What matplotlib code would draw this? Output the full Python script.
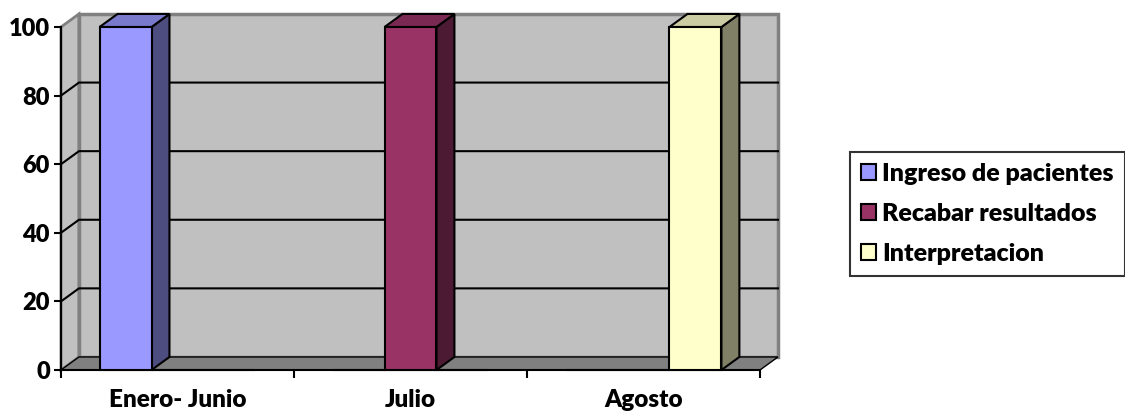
import matplotlib
matplotlib.use("Agg")
import matplotlib.pyplot as plt
from matplotlib.patches import Polygon, Rectangle

plt.rcParams['font.family'] = ['Lato', 'DejaVu Sans']
plt.rcParams['font.weight'] = 'heavy'

# data
categories = ['Enero- Junio', 'Julio', 'Agosto']
series_names = ['Ingreso de pacientes', 'Recabar resultados', 'Interpretacion']
ingreso = [100, 0, 0]
recabar = [0, 100, 0]
interpretacion = [0, 0, 100]
y_ticks = [0, 20, 40, 60, 80, 100]

series = [ingreso, recabar, interpretacion]
front_cols = ['#9999FF', '#993366', '#FFFFCC']
side_cols = ['#4D4D80', '#4D1A33', '#808066']
top_cols = ['#7A7ACC', '#7A2952', '#CCCCA3']

dx, dy = 0.077, 3.8   # depth offset in data units
w = 0.223

fig = plt.figure(figsize=(11.25, 4.17), dpi=100)
ax = fig.add_axes([61/1125, 47/417, 699/1125, 343/417])
n = len(categories)
ax.set_xlim(0, n)
ax.set_ylim(0, 100)
ax.patch.set_visible(False)
for s in ['top', 'right']:
    ax.spines[s].set_visible(False)
ax.spines['left'].set_linewidth(1.5)
ax.spines['bottom'].set_linewidth(1.5)

# walls and floor
ax.add_patch(Polygon([(0, 0), (dx, dy), (dx, 100 + dy), (0, 100)], closed=True,
                     facecolor='#C0C0C0', edgecolor='#808080', lw=2, clip_on=False, zorder=0))
ax.add_patch(Rectangle((dx, dy), n, 100, facecolor='#C0C0C0', edgecolor='#808080',
                       lw=2.5, clip_on=False, zorder=0))
for t in y_ticks[1:-1]:
    ax.plot([0, dx, n + dx], [t, t + dy, t + dy], color='black', lw=1.5,
            clip_on=False, zorder=1)
ax.add_patch(Polygon([(0, 0), (n, 0), (n + dx, dy), (dx, dy)], closed=True,
                     facecolor='#808080', edgecolor='black', lw=1, clip_on=False, zorder=2))

# bars
for i, vals in enumerate(series):
    for j, v in enumerate(vals):
        if v == 0:
            continue
        x0 = j + 0.5 + (i - 1) * w - w / 2
        x1 = x0 + w
        ax.add_patch(Polygon([(x1, 0), (x1 + dx, dy), (x1 + dx, v + dy), (x1, v)], closed=True,
                             facecolor=side_cols[i], edgecolor='black', lw=1.5,
                             clip_on=False, zorder=3))
        ax.add_patch(Polygon([(x0, v), (x0 + dx, v + dy), (x1 + dx, v + dy), (x1, v)], closed=True,
                             facecolor=top_cols[i], edgecolor='black', lw=1.5,
                             clip_on=False, zorder=3))
    pos = [j + 0.5 + (i - 1) * w for j in range(n)]
    ax.bar(pos, vals, width=w, color=front_cols[i], edgecolor='black', lw=1.5,
           label=series_names[i], zorder=4, clip_on=False)

# ticks
ax.set_yticks(y_ticks)
ax.tick_params(axis='y', length=5, width=1.5, labelsize=17, pad=3)
ax.set_xticks(range(n + 1))
ax.set_xticklabels([])
ax.tick_params(axis='x', which='major', length=6, width=1.5)
ax.set_xticks([j + 0.5 for j in range(n)], minor=True)
ax.set_xticklabels(categories, minor=True)
ax.tick_params(axis='x', which='minor', length=0, labelsize=17.5, pad=14)
for lbl in ax.get_yticklabels() + ax.get_xticklabels(minor=True):
    lbl.set_fontweight('heavy')

leg = ax.legend(loc='center left', bbox_to_anchor=(850/1125, 203/417),
                bbox_transform=fig.transFigure, fontsize=18, frameon=True,
                fancybox=False, edgecolor='black', handlelength=0.6, handleheight=0.6,
                handletextpad=0.25, borderpad=0.45, labelspacing=0.72, borderaxespad=0)
leg.get_frame().set_linewidth(1.5)
for t in leg.get_texts():
    t.set_fontweight('heavy')

fig.savefig('out.png', dpi=100)
